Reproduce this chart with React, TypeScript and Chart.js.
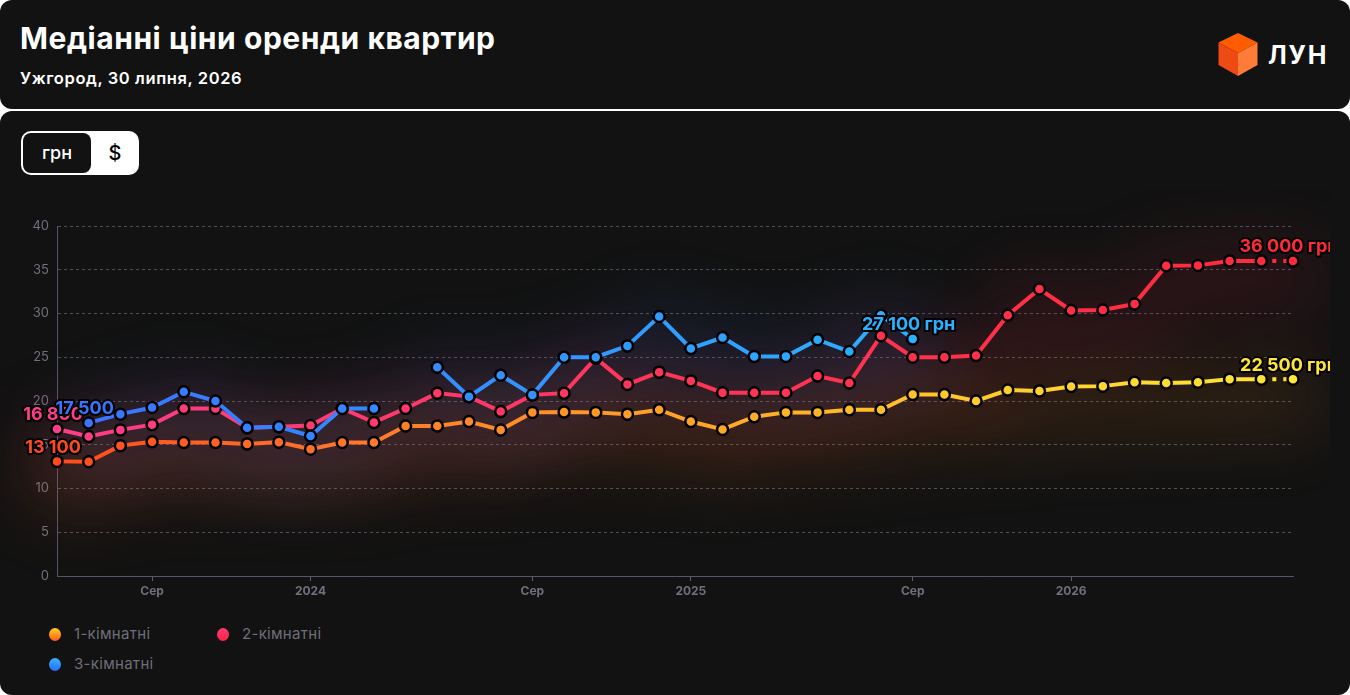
import React, { useEffect, useRef } from 'react';
import { Chart, registerables } from 'chart.js';

Chart.register(...registerables);

// ---------- DATA ----------
const months = [
  '05.2023', '06.2023', '07.2023', '08.2023', '09.2023', '10.2023', '11.2023', '12.2023',
  '01.2024', '02.2024', '03.2024', '04.2024', '05.2024', '06.2024', '07.2024', '08.2024',
  '09.2024', '10.2024', '11.2024', '12.2024',
  '01.2025', '02.2025', '03.2025', '04.2025', '05.2025', '06.2025', '07.2025', '08.2025',
  '09.2025', '10.2025', '11.2025', '12.2025',
  '01.2026', '02.2026', '03.2026', '04.2026', '05.2026', '06.2026', '07.2026', '08.2026',
];

// median rent, thousand UAH
const oneRoom = [
  13.1, 13.05, 14.9, 15.35, 15.25, 15.25, 15.1, 15.3, 14.5, 15.25,
  15.25, 17.15, 17.15, 17.65, 16.7, 18.7, 18.75, 18.7, 18.5, 19.0,
  17.65, 16.75, 18.2, 18.7, 18.7, 19.0, 19.0, 20.75, 20.75, 20.0,
  21.25, 21.15, 21.65, 21.7, 22.15, 22.05, 22.15, 22.5, 22.5, 22.5,
];
const twoRoom = [
  16.8, 15.95, 16.7, 17.3, 19.15, 19.15, 16.95, 17.05, 17.2, 19.15,
  17.55, 19.15, 20.9, 20.5, 18.8, 20.7, 20.9, 24.9, 21.9, 23.3,
  22.3, 20.95, 20.95, 20.95, 22.85, 22.05, 27.45, 25.0, 25.0, 25.2,
  29.8, 32.8, 30.35, 30.4, 31.1, 35.45, 35.5, 36.0, 36.0, 36.0,
];
const threeRoom: (number | null)[] = [
  null, 17.5, 18.5, 19.25, 21.05, 20.0, 16.95, 17.05, 16.0, 19.15,
  19.15, null, 23.85, 20.5, 22.95, 20.7, 25.0, 25.0, 26.3, 29.65,
  26.0, 27.25, 25.1, 25.1, 27.0, 25.65, 29.8, 27.1, null, null,
  null, null, null, null, null, null, null, null, null, null,
];

const seriesNames = ['1-кімнатні', '2-кімнатні', '3-кімнатні'];

const xTickIndex = [3, 8, 15, 20, 27, 32];
const xTickText = ['Сер', '2024', 'Сер', '2025', 'Сер', '2026'];

const yTicks = [0, 5, 10, 15, 20, 25, 30, 35, 40];

// value labels: series, point index, suffix
const labelSeries = [0, 1, 2, 2, 1, 0];
const labelIndex = [0, 0, 1, 27, 39, 39];
const labelSuffix = ['', '', '', ' грн', ' грн', ' грн'];

// ---------- STYLE ----------
type Stop = [number, string];
const stops: Stop[][] = [
  [[0, '#ff4a1e'], [0.25, '#ff7a2a'], [0.5, '#ffa326'], [0.75, '#ffcb2c'], [1, '#ffe636']],
  [[0, '#ff3d88'], [0.5, '#ff3558'], [1, '#ff2b3b']],
  [[0, '#3a72ff'], [0.35, '#3390ff'], [0.7, '#2ab2ff'], [1, '#2ab8ff']],
];
const glowColors = ['rgba(255,140,30,1)', 'rgba(255,40,70,1)', 'rgba(60,120,255,1)'];
const glowAlpha = [0.13, 0.12, 0.12];

function hexToRgb(h: string) {
  const n = parseInt(h.slice(1), 16);
  return [(n >> 16) & 255, (n >> 8) & 255, n & 255];
}
function colorAt(st: Stop[], t: number) {
  if (t <= st[0][0]) return st[0][1];
  for (let i = 1; i < st.length; i++) {
    if (t <= st[i][0]) {
      const a = hexToRgb(st[i - 1][1]);
      const b = hexToRgb(st[i][1]);
      const f = (t - st[i - 1][0]) / (st[i][0] - st[i - 1][0]);
      const c = a.map((v, k) => Math.round(v + (b[k] - v) * f));
      return `rgb(${c[0]},${c[1]},${c[2]})`;
    }
  }
  return st[st.length - 1][1];
}
function makeGrad(ctx: CanvasRenderingContext2D, area: any, st: Stop[]) {
  const g = ctx.createLinearGradient(area.left, 0, area.right, 0);
  st.forEach(([p, c]) => g.addColorStop(p, c));
  return g;
}
function fmt(v: number) {
  return String(Math.round(v * 1000)).replace(/\B(?=(\d{3})+(?!\d))/g, ' ');
}

const FONT = "Inter, 'Noto Sans', sans-serif";
const allSeries = [oneRoom, twoRoom, threeRoom];

const glowPlugin = {
  id: 'glow',
  beforeDatasetsDraw(chart: any) {
    const { ctx } = chart;
    [0, 1, 2].forEach((di) => {
      const meta = chart.getDatasetMeta(di);
      const data = allSeries[di];
      ctx.save();
      ctx.filter = 'blur(34px)';
      ctx.globalAlpha = glowAlpha[di];
      ctx.lineWidth = 70;
      ctx.lineJoin = 'round';
      ctx.lineCap = 'round';
      ctx.strokeStyle = glowColors[di];
      ctx.beginPath();
      let started = false;
      meta.data.forEach((pt: any, i: number) => {
        if (data[i] == null) { started = false; return; }
        if (!started) { ctx.moveTo(pt.x, pt.y + 18); started = true; }
        else ctx.lineTo(pt.x, pt.y + 18);
      });
      ctx.stroke();
      ctx.restore();
    });
  },
};

const labelPlugin = {
  id: 'valueLabels',
  afterDatasetsDraw(chart: any) {
    const { ctx, chartArea } = chart;
    const w = chartArea.right - chartArea.left;
    labelSeries.forEach((s, k) => {
      const idx = labelIndex[k];
      const v = allSeries[s][idx];
      if (v == null) return;
      const pt = chart.getDatasetMeta(s).data[idx];
      const text = fmt(v) + labelSuffix[k];
      const color = colorAt(stops[s], (pt.x - chartArea.left) / w);
      ctx.save();
      ctx.font = `700 18px ${FONT}`;
      ctx.textAlign = 'center';
      ctx.textBaseline = 'middle';
      ctx.lineJoin = 'round';
      ctx.lineWidth = 4;
      ctx.strokeStyle = '#000';
      const x = pt.x - 4;
      const y = pt.y - 14;
      ctx.strokeText(text, x, y);
      ctx.fillStyle = color;
      ctx.fillText(text, x, y);
      ctx.restore();
    });
  },
};

function ChartView() {
  const ref = useRef<HTMLCanvasElement>(null);
  useEffect(() => {
    if (!ref.current) return;
    const pointColors = (di: number) =>
      months.map((_, i) => colorAt(stops[di], i / (months.length - 1)));
    const mk = (di: number, order: number, dotted: boolean) => ({
      label: seriesNames[di],
      data: allSeries[di],
      order,
      borderWidth: 4,
      borderColor: (c: any) => {
        const area = c.chart.chartArea;
        if (!area) return stops[di][0][1];
        return makeGrad(c.chart.ctx, area, stops[di]);
      },
      pointRadius: 5.5,
      pointHoverRadius: 5.5,
      pointBorderWidth: 2.5,
      pointBorderColor: '#000',
      pointBackgroundColor: pointColors(di),
      tension: 0,
      spanGaps: false,
      clip: false,
      segment: dotted
        ? { borderDash: (c: any) => (c.p0DataIndex >= 38 ? [4, 7] : undefined) }
        : undefined,
    });
    const chart = new Chart(ref.current, {
      type: 'line',
      data: {
        labels: months,
        datasets: [mk(0, 3, true), mk(1, 2, true), mk(2, 1, false)] as any,
      },
      plugins: [glowPlugin, labelPlugin],
      options: {
        responsive: false,
        animation: false,
        devicePixelRatio: 1,
        layout: { padding: { top: 36, right: 37, left: 0, bottom: 0 } },
        plugins: { legend: { display: false }, tooltip: { enabled: false } },
        scales: {
          x: {
            type: 'category',
            offset: false,
            afterFit: (s: any) => { s.height = 30; },
            grid: {
              drawOnChartArea: false,
              drawTicks: true,
              tickLength: 5,
              tickColor: (c: any) => (xTickIndex.includes(c.index) ? '#5d5d6b' : 'rgba(0,0,0,0)'),
            },
            border: { display: true, color: '#55556a', width: 1 },
            ticks: {
              autoSkip: false,
              maxRotation: 0,
              padding: 3,
              color: '#6f6f7d',
              font: { family: FONT, size: 12, weight: 'bold' },
              callback: (_v: any, i: number) => {
                const k = xTickIndex.indexOf(i);
                return k >= 0 ? xTickText[k] : '';
              },
            },
          },
          y: {
            min: 0,
            max: 40,
            afterFit: (s: any) => { s.width = 57; },
            afterBuildTicks: (s: any) => { s.ticks = yTicks.map((v) => ({ value: v })); },
            grid: { color: '#4f4f58', lineWidth: 1, drawTicks: false },
            border: { display: true, color: '#55556a', width: 1, dash: [3, 3] },
            ticks: {
              padding: 8,
              color: '#70707e',
              font: { family: FONT, size: 13 },
            },
          },
        },
      } as any,
    });
    return () => chart.destroy();
  }, []);
  return (
    <canvas
      ref={ref}
      width={1330}
      height={416}
      style={{ position: 'absolute', left: 0, top: 79, width: 1330, height: 416 }}
    />
  );
}

const legendDot = [
  'linear-gradient(180deg, #ffd21e 0%, #ff5a1e 100%)',
  'linear-gradient(180deg, #ff3a6e 0%, #ff2448 100%)',
  'linear-gradient(180deg, #37b2ff 0%, #2a6dff 100%)',
];

function LegendItem({ i, left, top }: { i: number; left: number; top: number }) {
  return (
    <div style={{ position: 'absolute', left, top, height: 20, display: 'flex', alignItems: 'center' }}>
      <div style={{ width: 12, height: 13, borderRadius: '50%', background: legendDot[i] }} />
      <div style={{ marginLeft: 13, color: '#6e6e7a', fontSize: 15, fontFamily: FONT, lineHeight: '20px', letterSpacing: 0.3 }}>
        {seriesNames[i]}
      </div>
    </div>
  );
}

export default function App() {
  return (
    <div style={{ position: 'fixed', inset: 0, background: '#ffffff', fontFamily: FONT, overflow: 'hidden' }}>
      <div style={{ position: 'absolute', left: 0, top: 0, width: 1350, height: 109, background: '#121212', borderRadius: 12 }}>
        <div style={{ position: 'absolute', left: 20, top: 22.5, fontSize: 30, lineHeight: '30px', fontWeight: 700, color: '#fff', whiteSpace: 'nowrap', letterSpacing: 0.55 }}>
          Медіанні ціни оренди квартир
        </div>
        <div style={{ position: 'absolute', left: 20, top: 70, fontSize: 16.5, lineHeight: '16.5px', fontWeight: 600, color: '#fff', whiteSpace: 'nowrap', letterSpacing: 0.6 }}>
          Ужгород, 30 липня, 2026
        </div>
        <svg width={40} height={44} viewBox="0 0 40 44" style={{ position: 'absolute', left: 1218, top: 33 }}>
          <polygon points="20,0 39.5,9.5 20,20 0.5,9.5" fill="#ff5c00" />
          <polygon points="0.5,9.5 20,20 20,43 0.5,32" fill="#ee4a14" />
          <polygon points="39.5,9.5 20,20 20,43 39.5,32" fill="#ff7c38" />
        </svg>
        <div style={{ position: 'absolute', left: 1268, top: 42.5, fontSize: 25, lineHeight: '25px', fontWeight: 700, color: '#fff', letterSpacing: 1.8 }}>
          ЛУН
        </div>
      </div>
      <div style={{ position: 'absolute', left: 0, top: 111, width: 1350, height: 584, background: '#121212', borderRadius: 12 }}>
        <div style={{ position: 'absolute', left: 21, top: 20, width: 118, height: 44, background: '#fff', borderRadius: 10 }}>
          <div style={{ position: 'absolute', left: 2, top: 2, width: 68, height: 40, background: '#121212', borderRadius: 8, color: '#fff', fontSize: 18, lineHeight: '40px', textAlign: 'center', fontWeight: 500 }}>
            грн
          </div>
          <div style={{ position: 'absolute', left: 70, top: 2, width: 48, height: 40, color: '#000', fontSize: 20, lineHeight: '40px', textAlign: 'center', fontWeight: 500 }}>
            $
          </div>
        </div>
        <ChartView />
        <LegendItem i={0} left={49} top={513} />
        <LegendItem i={1} left={217} top={513} />
        <LegendItem i={2} left={49} top={543} />
      </div>
    </div>
  );
}
